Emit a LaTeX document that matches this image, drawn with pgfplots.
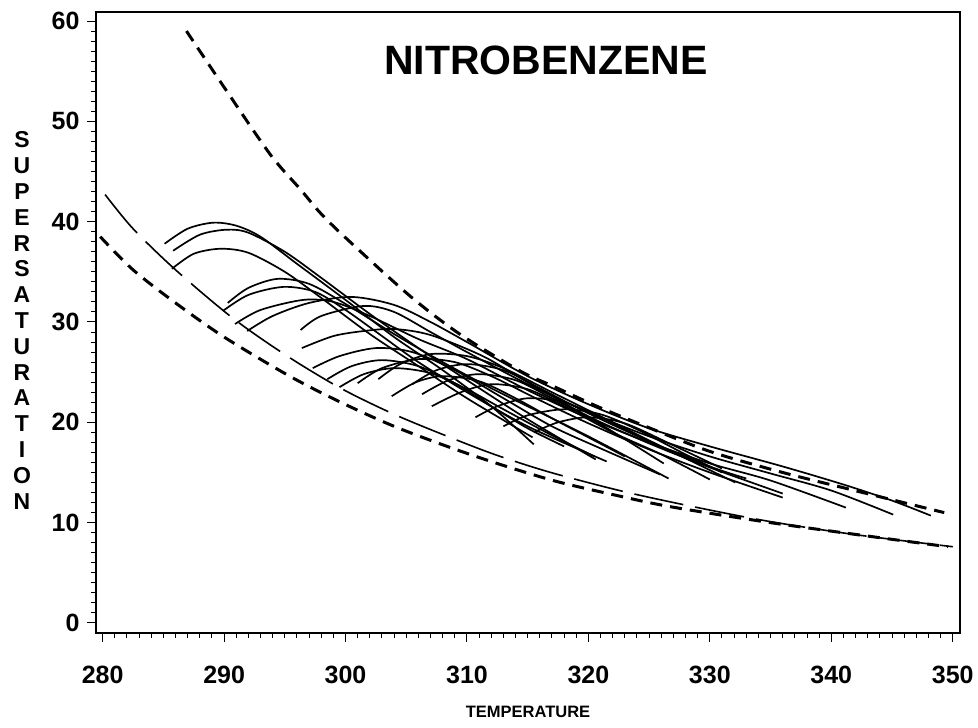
\documentclass[border=0pt]{standalone}
\usepackage{fontspec}
\setmainfont{Liberation Sans}
\usepackage{pgfplots}
\pgfplotsset{compat=1.18}
\pgfplotsset{
  sol/.style={black, line width=1.7pt, smooth, no markers},
  shd/.style={black, line width=3pt, smooth, no markers, dash pattern=on 12pt off 8pt},
  lgd/.style={black, line width=1.6pt, smooth, no markers, dash pattern=on 50pt off 12pt},
}
\begin{document}
\begin{tikzpicture}
\begin{axis}[
  name=ax,
  scale only axis, width=864pt, height=621pt,
  xmin=279.45, xmax=350.6, ymin=-1, ymax=60.9,
  xtick={280,290,...,350}, ytick={0,10,...,60},
  minor x tick num=9, minor y tick num=9,
  tick align=outside, xtick pos=bottom, ytick pos=left,
  major tick length=9pt, minor tick length=5pt,
  tick style={black, line width=1pt},
  axis line style={line width=1.3pt},
  ticklabel style={font=\fontsize{25}{25}\selectfont\bfseries},
  /pgf/number format/assume math mode=true,
  xticklabel style={yshift=-21pt},
  yticklabel style={xshift=-4pt},
  clip=false,
]
% envelopes
\addplot[shd] coordinates {(286.9,59.0) (290,53.4) (293.8,46.7) (296.3,43.2) (297.9,40.9) (300,38.4) (305.3,32.6) (309.4,28.8) (314.4,25.1) (317.1,23.6) (320.7,21.6) (324.3,19.8) (330,17.1) (336,15.0) (341.6,13.3) (349.3,11.0)};
\addplot[shd] coordinates {(279.8,38.5) (282.5,35.2) (286,31.9) (290,28.5) (295.4,24.6) (299.6,22.0) (304,19.6) (308.6,17.5) (313,15.7) (317.4,14.1) (322,12.8) (326.7,11.6) (335,10.0) (344,8.5) (349.6,7.6)};
\addplot[lgd] coordinates {(280.2,42.7) (282.5,39.3) (286,35.2) (290.7,30.4) (295.2,26.6) (299.6,23.4) (304,20.8) (308.6,18.5) (312.5,16.7) (316.9,15.0) (322.9,13.1) (329,11.5) (335,10.1) (342,8.8) (350,7.6)};
% runs
\addplot[sol] coordinates {(285.1,37.8) (287,39.3) (289.1,39.9) (291,39.6) (293,38.5) (296,35.8) (300,32.2) (304,28.5) (308,25.2) (312,21.6) (315.5,17.8)};
\addplot[sol] coordinates {(285.8,37.1) (288,38.7) (290.2,39.2) (292,38.9) (295,37.0) (298,34.4) (302,30.8) (306,27.4) (310,24.2) (315,20.3) (320.6,16.3)};
\addplot[sol] coordinates {(285.7,35.3) (287.5,36.8) (289.7,37.3) (292,36.9) (295,35.0) (298,32.4) (302,28.8) (306,25.6) (310,22.4) (315.4,18.5)};
\addplot[sol] coordinates {(290.3,31.9) (292,33.4) (294.4,34.3) (297,33.8) (300,31.8) (304,28.8) (308,26.0) (312,23.4) (316,21.0) (320,18.6) (326.6,14.4)};
\addplot[sol] coordinates {(289.9,31.1) (292,32.7) (294.9,33.5) (297.5,33.0) (300,31.2) (303,28.6) (306,26.0) (310,23.0) (315,19.6) (321.5,16.1)};
\addplot[sol] coordinates {(290.9,29.8) (293,31.2) (296.5,32.2) (299,32.0) (302,30.6) (306,28.3) (310,26.3) (315,23.2) (320,20.4) (325,18.0) (330,15.9) (335,14.2) (341.2,11.5)};
\addplot[sol] coordinates {(291.9,29.1) (294,30.6) (297,31.9) (300.5,32.5) (304,31.7) (307,30.0) (310,28.0) (315,24.6) (320,21.8) (325,19.4) (330,17.6) (336,15.6) (341,13.8) (345,12.2) (348.2,10.7)};
\addplot[sol] coordinates {(296.3,29.2) (298,30.6) (301.5,31.6) (304,31.0) (307,29.0) (310,27.0) (315,23.8) (320,21.0) (325,18.6) (330,16.6) (335,14.9) (340,13.2) (345.1,10.8)};
\addplot[sol] coordinates {(296.4,27.4) (299,28.6) (301.5,29.1) (304,29.3) (307,28.7) (311.3,26.6) (315,24.0) (320,20.6) (325,17.9) (330,15.5) (336,12.9)};
\addplot[sol] coordinates {(297.3,25.4) (299.5,26.6) (302.5,27.4) (305.5,27.0) (309,25.2) (313,22.4) (317,19.6) (321,17.4) (325.9,14.8)};
\addplot[sol] coordinates {(301.0,23.9) (303,25.4) (306,26.3) (309,26.0) (312,24.6) (316,22.2) (320,19.9) (325,17.3) (330,15.0) (336,12.5)};
\addplot[sol] coordinates {(302.7,24.3) (304.5,25.8) (307,26.8) (310,26.6) (313,25.4) (317,23.0) (321,20.6) (326,17.6) (332.1,14.0)};
\addplot[sol] coordinates {(305.5,23.8) (307.5,25.2) (310,25.8) (313,25.2) (316,23.4) (320,20.9) (325,18.1) (330,15.6) (333,14.4)};
\addplot[sol] coordinates {(306.3,22.8) (308.5,24.2) (311,24.8) (314,24.2) (317,22.4) (321,19.8) (326.2,15.9)};
\addplot[sol] coordinates {(307.1,21.6) (309.5,23.0) (312,23.8) (315,23.3) (318,21.6) (322,19.0) (326,16.8) (330,14.3)};
\addplot[sol] coordinates {(310.7,20.5) (312.5,21.6) (315,22.4) (318,22.0) (321,20.5) (325,18.1) (329,15.9)};
\addplot[sol] coordinates {(313,19.6) (315,20.7) (318,21.3) (321,20.8) (324,19.3) (328,16.8) (331,15.0)};
\addplot[sol] coordinates {(298.5,24.3) (300.5,25.6) (303,26.2) (306,25.6) (309,23.9) (312,21.6) (315,19.4) (318,17.6)};
\addplot[sol] coordinates {(299.5,23.5) (301.5,24.8) (304,25.4) (307,24.9) (310,23.3) (313,21.3) (317,18.7) (320.5,16.6)};
\addplot[sol] coordinates {(303.8,22.6) (305.8,24.0) (308,24.6) (311,24.1) (314,22.4) (317,20.4) (320,18.5) (323,16.6)};
\addplot[sol] coordinates {(315.5,19.0) (317.5,20.0) (320,20.5) (323,19.9) (327,17.7) (331,15.4)};
\node[font=\fontsize{41}{41}\selectfont\bfseries] at (axis cs:316.5,56.06) {NITROBENZENE};
\end{axis}
\node[font=\fontsize{23}{25.8}\selectfont\bfseries, align=center] at ([shift={(-74pt,2pt)}]ax.west)
  {S\\U\\P\\E\\R\\S\\A\\T\\U\\R\\A\\T\\I\\O\\N};
\node[font=\fontsize{16.5}{16.5}\selectfont\bfseries] at ([yshift=-79pt]ax.south) {TEMPERATURE};
\pgfresetboundingbox
\path[use as bounding box] ([shift={(-96pt,-94pt)}]ax.south west) rectangle ([shift={(18pt,12pt)}]ax.north east);
\end{tikzpicture}
\end{document}
